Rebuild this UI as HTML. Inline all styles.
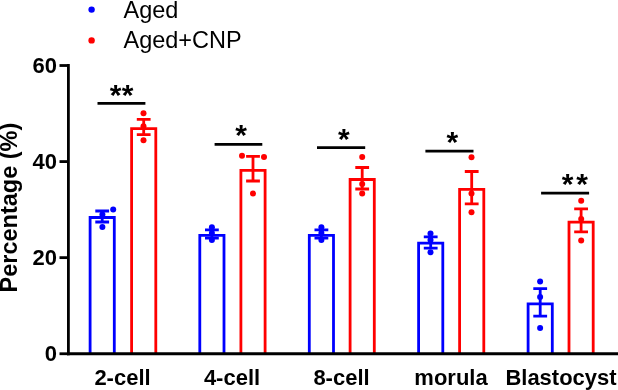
<!DOCTYPE html>
<html><head><meta charset="utf-8"><style>
html,body{margin:0;padding:0;background:#fff;}
svg{display:block;will-change:transform;}
text{font-family:"Liberation Sans",sans-serif;}
.b{font-weight:bold;}
</style></head><body>
<svg width="618" height="390" viewBox="0 0 618 390">
<rect width="618" height="390" fill="#fff"/>
<path d="M90.10 353.75V217.50H114.30V353.75" fill="none" stroke="#0000FF" stroke-width="2.8" stroke-linejoin="miter" stroke-linecap="butt"/>
<path d="M102.20 211.00V222.00M95.30 211.00H109.10M95.30 222.00H109.10" fill="none" stroke="#0000FF" stroke-width="2.8"/>
<circle cx="113.20" cy="209.50" r="3.0" fill="#0000FF"/>
<circle cx="102.40" cy="214.50" r="3.0" fill="#0000FF"/>
<circle cx="102.40" cy="227.10" r="3.0" fill="#0000FF"/>
<path d="M131.60 353.75V128.60H155.80V353.75" fill="none" stroke="#FF0000" stroke-width="2.8" stroke-linejoin="miter" stroke-linecap="butt"/>
<path d="M143.70 119.30V134.70M136.80 119.30H150.60M136.80 134.70H150.60" fill="none" stroke="#FF0000" stroke-width="2.8"/>
<circle cx="143.50" cy="113.20" r="3.0" fill="#FF0000"/>
<circle cx="143.50" cy="126.30" r="3.0" fill="#FF0000"/>
<circle cx="143.50" cy="140.20" r="3.0" fill="#FF0000"/>
<path d="M199.80 353.75V235.30H224.00V353.75" fill="none" stroke="#0000FF" stroke-width="2.8" stroke-linejoin="miter" stroke-linecap="butt"/>
<path d="M211.90 229.80V238.20M205.00 229.80H218.80M205.00 238.20H218.80" fill="none" stroke="#0000FF" stroke-width="2.8"/>
<circle cx="211.90" cy="227.20" r="3.0" fill="#0000FF"/>
<circle cx="211.90" cy="233.00" r="3.0" fill="#0000FF"/>
<circle cx="211.90" cy="240.00" r="3.0" fill="#0000FF"/>
<path d="M240.90 353.75V170.30H265.10V353.75" fill="none" stroke="#FF0000" stroke-width="2.8" stroke-linejoin="miter" stroke-linecap="butt"/>
<path d="M253.00 156.40V181.00M246.10 156.40H259.90M246.10 181.00H259.90" fill="none" stroke="#FF0000" stroke-width="2.8"/>
<circle cx="242.00" cy="155.80" r="3.0" fill="#FF0000"/>
<circle cx="264.00" cy="157.10" r="3.0" fill="#FF0000"/>
<circle cx="253.00" cy="193.60" r="3.0" fill="#FF0000"/>
<path d="M309.30 353.75V235.30H333.50V353.75" fill="none" stroke="#0000FF" stroke-width="2.8" stroke-linejoin="miter" stroke-linecap="butt"/>
<path d="M321.40 229.80V238.20M314.50 229.80H328.30M314.50 238.20H328.30" fill="none" stroke="#0000FF" stroke-width="2.8"/>
<circle cx="321.40" cy="227.20" r="3.0" fill="#0000FF"/>
<circle cx="321.40" cy="233.00" r="3.0" fill="#0000FF"/>
<circle cx="321.40" cy="240.00" r="3.0" fill="#0000FF"/>
<path d="M350.10 353.75V179.50H374.30V353.75" fill="none" stroke="#FF0000" stroke-width="2.8" stroke-linejoin="miter" stroke-linecap="butt"/>
<path d="M362.20 167.50V189.00M355.30 167.50H369.10M355.30 189.00H369.10" fill="none" stroke="#FF0000" stroke-width="2.8"/>
<circle cx="362.20" cy="157.00" r="3.0" fill="#FF0000"/>
<circle cx="362.20" cy="184.00" r="3.0" fill="#FF0000"/>
<circle cx="362.20" cy="193.60" r="3.0" fill="#FF0000"/>
<path d="M418.60 353.75V243.10H442.80V353.75" fill="none" stroke="#0000FF" stroke-width="2.8" stroke-linejoin="miter" stroke-linecap="butt"/>
<path d="M430.70 236.90V248.10M423.80 236.90H437.60M423.80 248.10H437.60" fill="none" stroke="#0000FF" stroke-width="2.8"/>
<circle cx="430.50" cy="233.50" r="3.0" fill="#0000FF"/>
<circle cx="430.50" cy="240.00" r="3.0" fill="#0000FF"/>
<circle cx="430.50" cy="252.30" r="3.0" fill="#0000FF"/>
<path d="M459.60 353.75V189.30H483.80V353.75" fill="none" stroke="#FF0000" stroke-width="2.8" stroke-linejoin="miter" stroke-linecap="butt"/>
<path d="M471.70 171.50V203.90M464.80 171.50H478.60M464.80 203.90H478.60" fill="none" stroke="#FF0000" stroke-width="2.8"/>
<circle cx="471.50" cy="157.20" r="3.0" fill="#FF0000"/>
<circle cx="471.50" cy="193.60" r="3.0" fill="#FF0000"/>
<circle cx="471.50" cy="212.20" r="3.0" fill="#FF0000"/>
<path d="M528.10 353.75V303.80H552.30V353.75" fill="none" stroke="#0000FF" stroke-width="2.8" stroke-linejoin="miter" stroke-linecap="butt"/>
<path d="M540.20 288.70V316.10M533.30 288.70H547.10M533.30 316.10H547.10" fill="none" stroke="#0000FF" stroke-width="2.8"/>
<circle cx="540.10" cy="281.50" r="3.0" fill="#0000FF"/>
<circle cx="540.10" cy="297.00" r="3.0" fill="#0000FF"/>
<circle cx="540.10" cy="328.00" r="3.0" fill="#0000FF"/>
<path d="M569.00 353.75V222.10H593.20V353.75" fill="none" stroke="#FF0000" stroke-width="2.8" stroke-linejoin="miter" stroke-linecap="butt"/>
<path d="M581.10 208.80V231.90M574.20 208.80H588.00M574.20 231.90H588.00" fill="none" stroke="#FF0000" stroke-width="2.8"/>
<circle cx="581.20" cy="200.80" r="3.0" fill="#FF0000"/>
<circle cx="581.20" cy="219.00" r="3.0" fill="#FF0000"/>
<circle cx="581.20" cy="240.50" r="3.0" fill="#FF0000"/>
<path d="M97.50 103.30H145.40" stroke="#000" stroke-width="2.8"/>
<path d="M214.60 144.40H262.30" stroke="#000" stroke-width="2.8"/>
<path d="M317.00 147.70H365.20" stroke="#000" stroke-width="2.8"/>
<path d="M425.40 151.10H473.50" stroke="#000" stroke-width="2.8"/>
<path d="M541.10 193.10H589.10" stroke="#000" stroke-width="2.8"/>
<path d="M68.4 64.1V355.15" stroke="#000" stroke-width="2.8"/>
<path d="M67 353.75H618" stroke="#000" stroke-width="2.8"/>
<path d="M59.5 353.75H68.4" stroke="#000" stroke-width="2.8"/>
<path d="M59.5 257.64H68.4" stroke="#000" stroke-width="2.8"/>
<path d="M59.5 161.58H68.4" stroke="#000" stroke-width="2.8"/>
<path d="M59.5 65.52H68.4" stroke="#000" stroke-width="2.8"/>
<text class="b" text-anchor="end" font-size="22" transform="translate(57,72.6) scale(1.0,1.035)">60</text>
<text class="b" text-anchor="end" font-size="22" transform="translate(57,168.7) scale(1.0,1.035)">40</text>
<text class="b" text-anchor="end" font-size="22" transform="translate(57,264.8) scale(1.0,1.035)">20</text>
<text class="b" text-anchor="end" font-size="22" transform="translate(57,361) scale(1.0,1.035)">0</text>
<text class="b" text-anchor="middle" font-size="22" transform="translate(122.5,384.5) scale(1.0,1.015)">2-cell</text>
<text class="b" text-anchor="middle" font-size="22" transform="translate(232,384.5) scale(1.0,1.015)">4-cell</text>
<text class="b" text-anchor="middle" font-size="22" transform="translate(341.5,384.5) scale(1.0,1.015)">8-cell</text>
<text class="b" text-anchor="middle" font-size="22" transform="translate(451,384.5) scale(1.0,1.015)">morula</text>
<text class="b" text-anchor="middle" font-size="22" transform="translate(561,384.5) scale(1.0,1.015)">Blastocyst</text>
<text class="b" font-size="23.5" transform="translate(17.3,292.5) rotate(-90)">Percentage (%)</text>
<circle cx="91.6" cy="9.6" r="3.2" fill="#0000FF"/>
<circle cx="91.6" cy="40.4" r="3.2" fill="#FF0000"/>
<text font-size="23.5" transform="translate(123.5,17.6) scale(1.0,1.035)">Aged</text>
<text font-size="23.5" transform="translate(123.5,48.4) scale(1.0,1.035)">Aged+CNP</text>
<g class="b" font-size="30">
<text x="109.8" y="104.9">*</text>
<text x="121.8" y="104.9">*</text>
<text x="235.3" y="145.4">*</text>
<text x="338" y="149.2">*</text>
<text x="446.6" y="152.3">*</text>
<text x="561.7" y="194.0">*</text>
<text x="576.2" y="194.0">*</text>
</g>
</svg>
</body></html>
